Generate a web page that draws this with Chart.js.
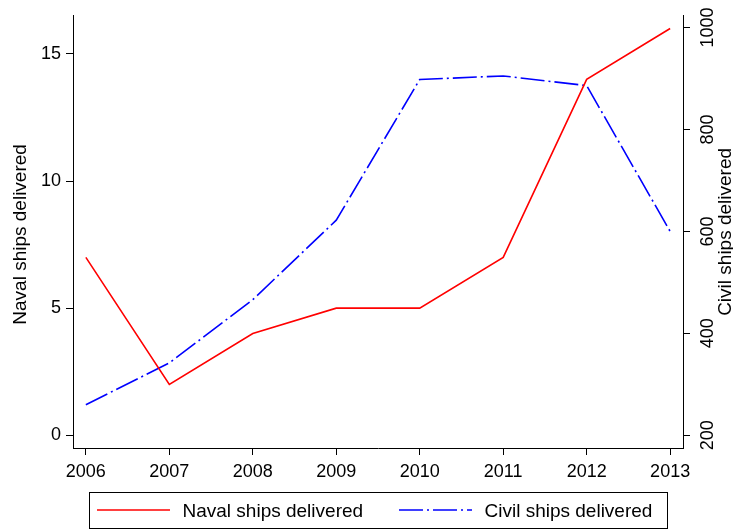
<!DOCTYPE html>
<html>
<head>
<meta charset="utf-8">
<script src="https://cdn.jsdelivr.net/npm/chart.js@4/dist/chart.umd.min.js"></script>
<style>
  html, body { margin: 0; padding: 0; background: #ffffff; }
  #wrap { width: 733px; height: 529px; }
</style>
</head>
<body>
<div id="wrap"><canvas id="c" width="733" height="529"></canvas></div>
<script>
// Ships delivered per year
const years = [2006, 2007, 2008, 2009, 2010, 2011, 2012, 2013];
const navalShips = [7, 2, 4, 5, 5, 7, 14, 16];
const civilShips = [260, 342, 466, 622, 898, 905, 886, 600];

// Axis tick values
const yearTicks = [2006, 2007, 2008, 2009, 2010, 2011, 2012, 2013];
const navalTicks = [0, 5, 10, 15];
const civilTicks = [200, 400, 600, 800, 1000];

// Labels
const navalLabel = 'Naval ships delivered';
const civilLabel = 'Civil ships delivered';

const FONT = "'Liberation Sans', Arial, Helvetica, sans-serif";
const TICK_SIZE = 18;
const TEXT_SIZE = 19;
Chart.defaults.font.family = FONT;
Chart.defaults.font.size = TICK_SIZE;
Chart.defaults.color = '#000000';

const civilDash = [24, 4, 2, 4];

function fixedTicks(values) {
  return function (scale) {
    scale.ticks = values.map(v => ({ value: v }));
  };
}

// Axis titles, rotated right-axis tick labels and a boxed legend
const decorations = {
  id: 'decorations',
  afterDraw(chart) {
    const ctx = chart.ctx;
    const y1 = chart.scales.y1;
    ctx.save();
    ctx.fillStyle = '#000000';

    // right axis tick labels, reading upward
    ctx.font = TICK_SIZE + 'px ' + FONT;
    ctx.textAlign = 'center';
    ctx.textBaseline = 'middle';
    y1.ticks.forEach(t => {
      const py = y1.getPixelForValue(t.value);
      ctx.save();
      ctx.translate(708.5, py);
      ctx.rotate(-Math.PI / 2);
      ctx.fillText(String(t.value), 0, 0);
      ctx.restore();
    });

    // axis titles
    ctx.font = TEXT_SIZE + 'px ' + FONT;
    const midY = (chart.chartArea.top + chart.chartArea.bottom) / 2;
    ctx.save();
    ctx.translate(20.5, midY + 2.5);
    ctx.rotate(-Math.PI / 2);
    ctx.fillText(navalLabel, 0, 0);
    ctx.restore();
    ctx.save();
    ctx.translate(725.5, midY);
    ctx.rotate(-Math.PI / 2);
    ctx.fillText(civilLabel, 0, 0);
    ctx.restore();

    // legend box
    ctx.strokeStyle = '#000000';
    ctx.lineWidth = 1;
    ctx.strokeRect(89.5, 492.5, 578, 36);

    const items = [
      { ds: chart.data.datasets[0], x0: 97, x1: 170, tx: 182.5 },
      { ds: chart.data.datasets[1], x0: 399, x1: 472, tx: 484.5 }
    ];
    items.forEach(it => {
      ctx.save();
      ctx.strokeStyle = it.ds.borderColor;
      ctx.lineWidth = it.ds.borderWidth;
      ctx.setLineDash(it.ds.borderDash || []);
      ctx.beginPath();
      ctx.moveTo(it.x0, 510);
      ctx.lineTo(it.x1, 510);
      ctx.stroke();
      ctx.restore();
      ctx.textAlign = 'left';
      ctx.textBaseline = 'alphabetic';
      ctx.fillText(it.ds.label, it.tx, 517);
    });
    ctx.restore();
  }
};

const axisGrid = {
  drawOnChartArea: false,
  drawTicks: true,
  tickLength: 7,
  color: '#000000',
  lineWidth: 1
};
const axisBorder = { display: true, color: '#000000', width: 1 };

new Chart(document.getElementById('c'), {
  type: 'line',
  data: {
    datasets: [
      {
        label: navalLabel,
        data: years.map((yr, i) => ({ x: yr, y: navalShips[i] })),
        yAxisID: 'y',
        borderColor: '#ff0000',
        backgroundColor: '#ff0000',
        borderWidth: 1.6,
        pointRadius: 0,
        tension: 0,
        fill: false
      },
      {
        label: civilLabel,
        data: years.map((yr, i) => ({ x: yr, y: civilShips[i] })),
        yAxisID: 'y1',
        borderColor: '#0000ff',
        backgroundColor: '#0000ff',
        borderWidth: 1.6,
        borderDash: civilDash,
        pointRadius: 0,
        tension: 0,
        fill: false
      }
    ]
  },
  options: {
    responsive: false,
    animation: false,
    layout: { padding: { top: 13, bottom: 39, left: 0, right: 0 } },
    plugins: {
      legend: { display: false },
      tooltip: { enabled: false }
    },
    scales: {
      x: {
        type: 'linear',
        position: 'bottom',
        min: 2005.846,
        max: 2013.154,
        afterBuildTicks: fixedTicks(yearTicks),
        afterFit: s => { s.height = 42; },
        ticks: {
          padding: 6.5,
          maxRotation: 0,
          minRotation: 0,
          color: '#000000',
          callback: v => String(v)
        },
        grid: axisGrid,
        border: axisBorder
      },
      y: {
        type: 'linear',
        position: 'left',
        min: -0.5,
        max: 16.5,
        afterBuildTicks: fixedTicks(navalTicks),
        afterFit: s => { s.width = 73; },
        ticks: { padding: 5, color: '#000000', callback: v => String(v) },
        grid: axisGrid,
        border: axisBorder
      },
      y1: {
        type: 'linear',
        position: 'right',
        min: 175,
        max: 1023,
        afterBuildTicks: fixedTicks(civilTicks),
        afterFit: s => { s.width = 50; },
        ticks: { display: false },
        grid: axisGrid,
        border: axisBorder
      }
    }
  },
  plugins: [decorations]
});
</script>
</body>
</html>
